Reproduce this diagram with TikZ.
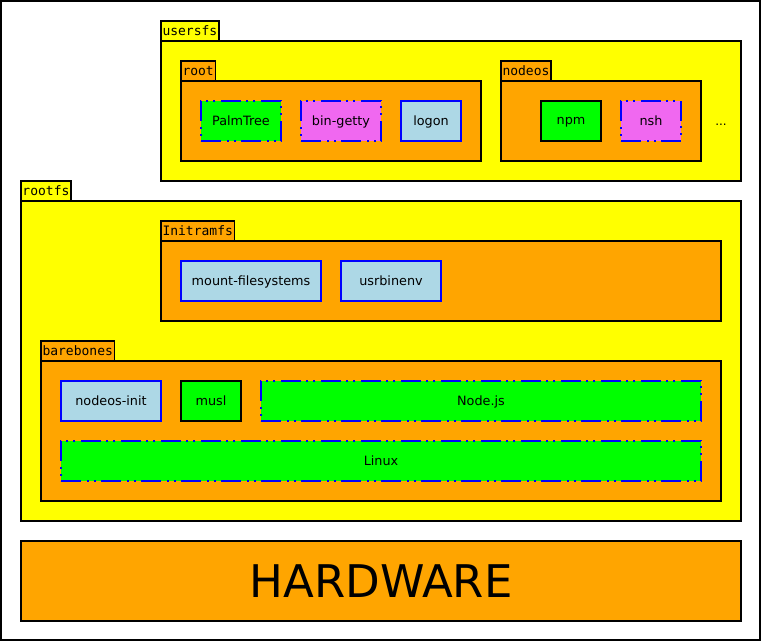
\documentclass[tikz,border=0pt]{standalone}
\usepackage{fontspec}
\setmainfont{DejaVu Sans}
\setmonofont{DejaVu Sans Mono}
\usetikzlibrary{positioning}
\definecolor{layerfill}{RGB}{255,255,0}
\definecolor{groupfill}{RGB}{255,165,0}
\definecolor{nativefill}{RGB}{0,255,0}
\definecolor{getty}{RGB}{240,104,240}
\definecolor{lblue}{RGB}{173,216,230}
\definecolor{edge}{RGB}{0,0,255}

\begin{document}
\begin{tikzpicture}[
  x=1pt, y=-1pt,
  every node/.style={draw, line width=1.5pt, inner sep=0pt, outer sep=0pt, font=\fontsize{12.8}{15}\selectfont},
  layer/.style={anchor=north west, fill=layerfill},
  group/.style={anchor=north west, fill=groupfill},
  tab/.style={anchor=south west, minimum height=20pt, inner xsep=1.5pt, font=\ttfamily\fontsize{13}{15}\selectfont},
  pkg/.style={anchor=north west, minimum height=40pt, text depth=0pt},
  native/.style={pkg, fill=nativefill, draw=black},
  script/.style={pkg, fill=lblue, draw=edge},
  linked/.style={pkg, fill=nativefill, draw=edge, dash pattern=on 20pt off 6pt on 2pt off 5pt on 2pt off 5pt},
  shell/.style={linked, fill=getty}
]
\useasboundingbox (0,0) rectangle (761,641);
\draw[line width=2pt] (1,1) rectangle (760,640);

% usersfs
\node[layer, minimum width=580pt, minimum height=140pt] (usersfs) at (161,41) {};
\node[tab, fill=layerfill] (usersfsTab) at (usersfs.north west) {usersfs};
\node[group, minimum width=300pt, minimum height=80pt] (root) at (181,81) {};
\node[tab, fill=groupfill] (rootTab) at (root.north west) {root};
\node[linked, minimum width=80pt] (palmtree) at (201,101) {PalmTree};
\node[shell, minimum width=80pt] (bingetty) at (301,101) {bin-getty};
\node[script, minimum width=60pt] (logon) at (401,101) {logon};
\node[group, minimum width=200pt, minimum height=80pt] (nodeos) at (501,81) {};
\node[tab, fill=groupfill] (nodeosTab) at (nodeos.north west) {nodeos};
\node[native, minimum width=60pt] (npm) at (541,101) {npm};
\node[shell, minimum width=60pt] (nsh) at (621,101) {nsh};
\node[draw=none, font=\fontsize{12}{14}\selectfont, anchor=base] (more) at (721,125) {...};

% rootfs
\node[layer, minimum width=720pt, minimum height=320pt] (rootfs) at (21,201) {};
\node[tab, fill=layerfill] (rootfsTab) at (rootfs.north west) {rootfs};
\node[group, minimum width=560pt, minimum height=80pt] (initramfs) at (161,241) {};
\node[tab, fill=groupfill] (initramfsTab) at (initramfs.north west) {Initramfs};
\node[script, minimum width=140pt] (mountfs) at (181,261) {mount-filesystems};
\node[script, minimum width=100pt] (usrbinenv) at (341,261) {usrbinenv};
\node[group, minimum width=680pt, minimum height=140pt] (barebones) at (41,361) {};
\node[tab, fill=groupfill] (barebonesTab) at (barebones.north west) {barebones};
\node[script, minimum width=100pt] (nodeosinit) at (61,381) {nodeos-init};
\node[native, minimum width=60pt] (musl) at (181,381) {musl};
\node[linked, minimum width=440pt] (nodejs) at (261,381) {Node.js};
\node[linked, minimum width=640pt] (linux) at (61,441) {Linux};

% hardware
\node[group, minimum width=720pt, minimum height=80pt, font=\fontsize{45}{50}\selectfont] (hardware) at (21,541) {HARDWARE};
\end{tikzpicture}
\end{document}
